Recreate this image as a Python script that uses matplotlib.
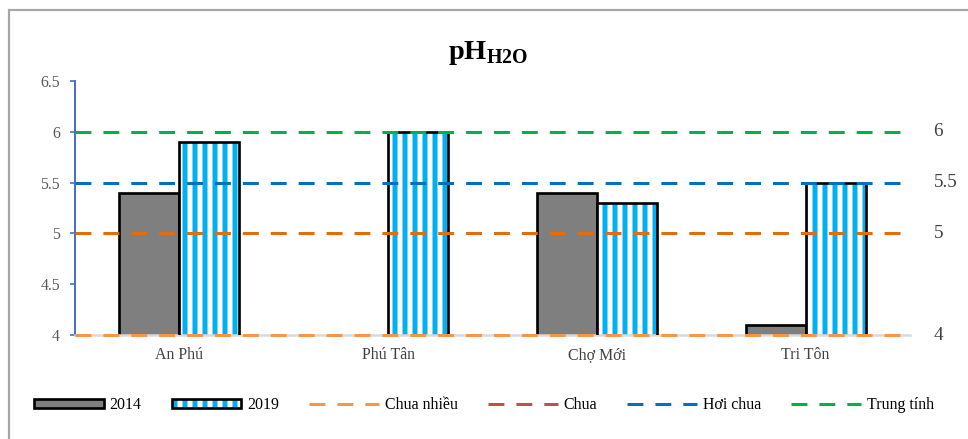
import matplotlib
matplotlib.use("Agg")
import matplotlib.pyplot as plt
import numpy as np
from matplotlib.lines import Line2D
from matplotlib.patches import Patch
from matplotlib.legend_handler import HandlerTuple
import matplotlib.transforms as mtransforms

regions = ["An Phú", "Phú Tân", "Chợ Mới", "Tri Tôn"]
ph_2014 = [5.4, np.nan, 5.4, 4.1]
ph_2019 = [5.9, 6.0, 5.3, 5.5]
year_labels = ["2014", "2019"]

level_names = ["Chua nhiều", "Chua", "Hơi chua", "Trung tính"]
level_values = [4.0, 5.0, 5.5, 6.0]
level_colors = ["#F79646", "#E46C0A", "#0070C0", "#00B050"]
legend_colors = ["#F79646", "#C0504D", "#0070C0", "#00B050"]
level_text = ["4", "5", "5.5", "6"]

plt.rcParams["font.family"] = ["Liberation Serif", "DejaVu Serif"]
plt.rcParams["mathtext.fontset"] = "custom"
plt.rcParams["mathtext.rm"] = "Liberation Serif"
plt.rcParams["mathtext.bf"] = "Liberation Serif:bold"
plt.rcParams["hatch.linewidth"] = 3.0

DPI = 120
fig = plt.figure(figsize=(968 / DPI, 439 / DPI), dpi=DPI)
ax = fig.add_axes([75 / 968, 1 - 335 / 439, 835 / 968, 254 / 439])

x = np.arange(len(regions))
w = 0.287
blue = "#00B0F0"

ax.bar(x - w / 2, ph_2014, w, color="#7F7F7F", edgecolor="black", linewidth=1.6, zorder=2)
ax.bar(x + w / 2, ph_2019, w, color="white", edgecolor=blue, hatch="||", linewidth=0, zorder=2)
ax.bar(x + w / 2, ph_2019, w, color="none", edgecolor="black", linewidth=1.6, zorder=3)

ax.set_xlim(-0.5, 3.5)
ax.set_ylim(4, 6.5)
ax.set_yticks([4, 4.5, 5, 5.5, 6, 6.5])
ax.set_yticklabels(["4", "4.5", "5", "5.5", "6", "6.5"])
ax.set_xticks(x)
ax.set_xticklabels([])
ax.tick_params(axis="x", length=0)
ax.tick_params(axis="y", length=3, width=1, color="#4472C4", labelsize=9.5,
               labelcolor="#595959", pad=6)

# category labels on a common baseline
xtrans = mtransforms.blended_transform_factory(ax.transData, fig.transFigure)
for xi, name in zip(x, regions):
    ax.text(xi, 1 - 359 / 439, name, transform=xtrans, ha="center", va="baseline",
            fontsize=9.5, color="#404040")

for s in ["top", "right"]:
    ax.spines[s].set_visible(False)
ax.spines["left"].set_color("#4472C4")
ax.spines["left"].set_linewidth(1.2)
ax.spines["bottom"].set_color("#D9D9D9")
ax.spines["bottom"].set_linewidth(1.5)

dash = (5.3, 4)
trans = mtransforms.blended_transform_factory(ax.transAxes, ax.transData)
for val, col, txt in zip(level_values, level_colors, level_text):
    ax.axhline(val, color=col, linewidth=1.8, dashes=dash, zorder=4, clip_on=False)
    ax.text(1.028, val, txt, transform=trans, ha="left", va="center",
            fontsize=11.5, color="#404040")

fig.text(0.504, 1 - 59 / 439, r"$\mathbf{pH}_{\mathbf{H2O}}$", ha="center",
         va="baseline", fontsize=17)

# outer frame (top and left only visible)
fig.add_artist(Line2D([9 / 968, 9 / 968], [0, 1 - 10 / 439], color="#A6A6A6",
                      linewidth=1.3, transform=fig.transFigure))
fig.add_artist(Line2D([9 / 968, 1], [1 - 10 / 439, 1 - 10 / 439], color="#A6A6A6",
                      linewidth=1.3, transform=fig.transFigure))

h2014 = Patch(facecolor="#7F7F7F", edgecolor="black", linewidth=1.6)
h2019 = (Patch(facecolor="white", edgecolor=blue, hatch="||", linewidth=0),
         Patch(facecolor="none", edgecolor="black", linewidth=1.6))
handles = [h2014, h2019]
for col in legend_colors:
    handles.append(Line2D([0], [0], color=col, linewidth=1.8, dashes=dash))
labels = year_labels + level_names
fig.legend(handles, labels, loc="center", bbox_to_anchor=(0.5, 1 - 405 / 439),
           ncol=6, frameon=False, fontsize=9.5, handlelength=4.4, handleheight=0.5,
           handletextpad=0.38, columnspacing=1.9,
           handler_map={tuple: HandlerTuple(ndivide=1, pad=0)})

fig.savefig("out.png", dpi=DPI)
